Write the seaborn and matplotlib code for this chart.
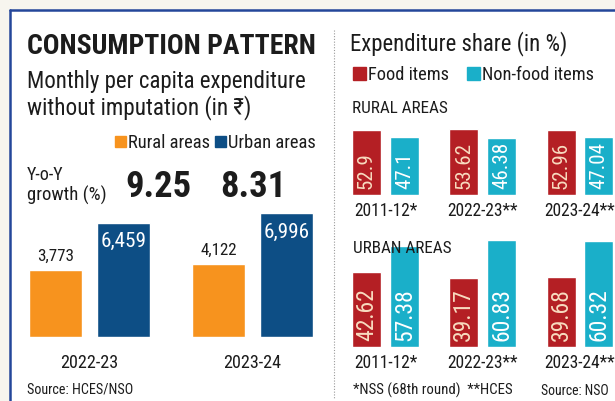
import matplotlib
matplotlib.use("Agg")
import matplotlib.pyplot as plt
from matplotlib import font_manager as fm
from matplotlib.patches import Patch, Rectangle
from matplotlib.lines import Line2D
import pandas as pd
import seaborn as sns

# Monthly per capita expenditure without imputation (Rs)
years = ["2022-23", "2023-24"]
rural_mpce = [3773, 4122]
urban_mpce = [6459, 6996]
yoy_growth = [9.25, 8.31]

# Expenditure share (%)
periods = ["2011-12*", "2022-23**", "2023-24**"]
rural_food = [52.9, 53.62, 52.96]
rural_nonfood = [47.1, 46.38, 47.04]
urban_food = [42.62, 39.17, 39.68]
urban_nonfood = [57.38, 60.83, 60.32]

ORANGE = "#f7931e"
NAVY = "#0d4e85"
RED = "#b41f24"
CYAN = "#1aafc9"
INK = "#1c1c1c"

sns.set_theme(style="white")

# pick the narrowest sans family that is installed
entries = fm.fontManager.ttflist
names = {e.name for e in entries}
family, stretch = "Roboto", "normal"
for cand in ["Liberation Sans Narrow", "Roboto Condensed", "Open Sans Condensed",
             "Noto Sans Condensed", "DejaVu Sans Condensed"]:
    if cand in names:
        family = cand
        break
else:
    for e in entries:
        if e.name in ("Roboto", "Noto Sans", "Open Sans", "DejaVu Sans") and \
                e.stretch in ("condensed", "semi-condensed", "extra-condensed"):
            family, stretch = e.name, "condensed"
            break
plt.rcParams["font.family"] = [family, "DejaVu Sans"]
plt.rcParams["font.stretch"] = stretch
plt.rcParams["text.color"] = INK

W, H = 615, 401
PX = 100 / 72  # pixels per point
fig = plt.figure(figsize=(W / 100, H / 100), dpi=100, facecolor="#f7f5ee")
renderer = fig.canvas.get_renderer()


def box(x0, x1, ytop, ybot):
    return [x0 / W, 1 - ybot / H, (x1 - x0) / W, (ybot - ytop) / H]


def pt(x, y):
    return (x / W, 1 - y / H)


def text_width(s, size, **kw):
    t = fig.text(0, 0, s, fontsize=size, **kw)
    w = t.get_window_extent(renderer).width
    t.remove()
    return w


def size_for(s, width, max_size, **kw):
    return max_size * min(1.0, width / text_width(s, max_size, **kw))


def put(x, y, s, width, max_size, **kw):
    size = size_for(s, width, max_size, **kw)
    return fig.text(*pt(x, y), s, fontsize=size, va="baseline", ha="left", **kw)


# panel background and frame
fig.add_artist(Rectangle((10 / W, 0), (W - 10) / W, (H - 10) / H,
                         transform=fig.transFigure, facecolor="white",
                         edgecolor="none", zorder=0))
fig.add_artist(Line2D([10 / W, 1], [1 - 10 / H] * 2, transform=fig.transFigure,
                      color="#24469a", lw=1.8))
fig.add_artist(Line2D([10 / W] * 2, [0, 1 - 10 / H], transform=fig.transFigure,
                      color="#24469a", lw=1.8))
fig.add_artist(Line2D([334 / W] * 2, [1 - 30 / H, 1 - 398 / H],
                      transform=fig.transFigure, color="#9a9a9a", lw=0.8,
                      linestyle=(0, (1, 1.5))))

# ---------------- left: MPCE ----------------
put(27, 54, "CONSUMPTION PATTERN", 288, 27, fontweight="bold")
put(27, 88, "Monthly per capita expenditure", 278, 18.5)
put(27, 114, "without imputation (in \u20b9)", 224, 18.5)
put(27, 180, "Y-o-Y", 41, 13)
put(27, 201, "growth (%)", 84, 13.5)
for gx, g in zip([125, 220], yoy_growth):
    put(gx, 197, f"{g:.2f}", 66, 32, fontweight="bold")
put(27, 393, "Source: HCES/NSO", 106, 11)

mpce = pd.DataFrame({
    "year": years * 2,
    "area": ["Rural areas"] * len(years) + ["Urban areas"] * len(years),
    "value": rural_mpce + urban_mpce,
})
ax = fig.add_axes(box(20, 323, 150, 337))
sns.barplot(data=mpce, x="year", y="value", hue="area", palette=[ORANGE, NAVY],
            width=0.834, gap=0.22, saturation=1, legend=False, ax=ax)
ax.set_xlim((20 - 89.5) / 163, (323 - 89.5) / 163)
ax.set_ylim(0, (337 - 150) / 0.01772)
ax.set_facecolor("none")
sns.despine(ax=ax, left=True, bottom=True)
ax.set_yticks([])
ax.set_xlabel("")
ax.set_ylabel("")
ax.tick_params(axis="x", length=0, pad=12,
               labelsize=size_for("2023-24", 58, 13.5), labelcolor=INK)

rural_bars, urban_bars = ax.containers
rsize = size_for("3,773", 37, 13.5)
usize = size_for("6,996", 46, 15.5)
for bar, v in zip(rural_bars, rural_mpce):
    ax.annotate(f"{v:,}", (bar.get_x() + bar.get_width() / 2, v), xytext=(0, 6.5),
                textcoords="offset points", ha="center", va="baseline",
                fontsize=rsize, color=INK)
for bar, v in zip(urban_bars, urban_mpce):
    ax.annotate(f"{v:,}", (bar.get_x() + bar.get_width() / 2, v), xytext=(0, -7),
                textcoords="offset points", ha="center", va="top",
                fontsize=usize, color="white")

lsize = min(size_for("Rural areas", 83, 14), size_for("Urban areas", 95, 14))
em = lsize * PX
fig.legend(handles=[Patch(color=ORANGE, label="Rural areas"),
                    Patch(color=NAVY, label="Urban areas")],
           loc="upper left", bbox_to_anchor=pt(115, 134), ncol=2, frameon=False,
           fontsize=lsize, handlelength=11 / em, handleheight=11 / em,
           handletextpad=2 / em,
           columnspacing=(215 - 128 - text_width("Rural areas", lsize)) / em,
           borderpad=0, borderaxespad=0)

# ---------------- right: expenditure share ----------------
put(350, 50, "Expenditure share (in %)", 216, 16.5)
fsize = min(size_for("Food items", 81, 15), size_for("Non-food items", 117, 15))
em = fsize * PX
fig.legend(handles=[Patch(color=RED, label="Food items"),
                    Patch(color=CYAN, label="Non-food items")],
           loc="upper left", bbox_to_anchor=pt(353, 66), ncol=2, frameon=False,
           fontsize=fsize, handlelength=13 / em, handleheight=13 / em,
           handletextpad=2 / em,
           columnspacing=(467 - 368 - text_width("Food items", fsize)) / em,
           borderpad=0, borderaxespad=0)
put(352, 113, "RURAL AREAS", 96, 15)
put(353, 253, "URBAN AREAS", 99, 15)
put(353, 395, "*NSS (68th round)  **HCES", 160, 11.5)
put(541, 395, "Source: NSO", 68, 11.5)

tick_size = min(size_for("2011-12*", 64, 15), size_for("2023-24**", 76, 15))


def share_panel(food, nonfood, ytop, ybot, px_per_unit):
    df = pd.DataFrame({
        "period": periods * 2,
        "item": ["Food items"] * len(periods) + ["Non-food items"] * len(periods),
        "share": food + nonfood,
    })
    sax = fig.add_axes(box(338, 615, ytop, ybot))
    sns.barplot(data=df, x="period", y="share", hue="item", palette=[RED, CYAN],
                width=0.78, gap=0.236, saturation=1, legend=False, ax=sax)
    sax.set_xlim((338 - 385.5) / 97.25, (615 - 385.5) / 97.25)
    sax.set_ylim(0, (ybot - ytop) / px_per_unit)
    sax.set_facecolor("none")
    sns.despine(ax=sax, left=True, bottom=True)
    sax.set_yticks([])
    sax.set_xlabel("")
    sax.set_ylabel("")
    sax.tick_params(axis="x", length=0, pad=5, labelsize=tick_size,
                    labelcolor=INK)
    # one label size per panel, so every value fits inside its bar
    vsize = min(size_for(f"{v:g}", v * px_per_unit - 10, 17)
                for v in food + nonfood)
    for cont, vals, col in zip(sax.containers, (food, nonfood), ("#f8dcc0", "white")):
        for bar, v in zip(cont, vals):
            sax.annotate(f"{v:g}", (bar.get_x() + bar.get_width() / 2, 0),
                         xytext=(0, 4), textcoords="offset points", rotation=90,
                         ha="center", va="bottom", fontsize=vsize, color=col)
    return sax


share_panel(rural_food, rural_nonfood, 115, 195, 66 / 53.62)
share_panel(urban_food, urban_nonfood, 230, 347, 107 / 60.83)

fig.savefig("out.png", dpi=100, facecolor=fig.get_facecolor())
